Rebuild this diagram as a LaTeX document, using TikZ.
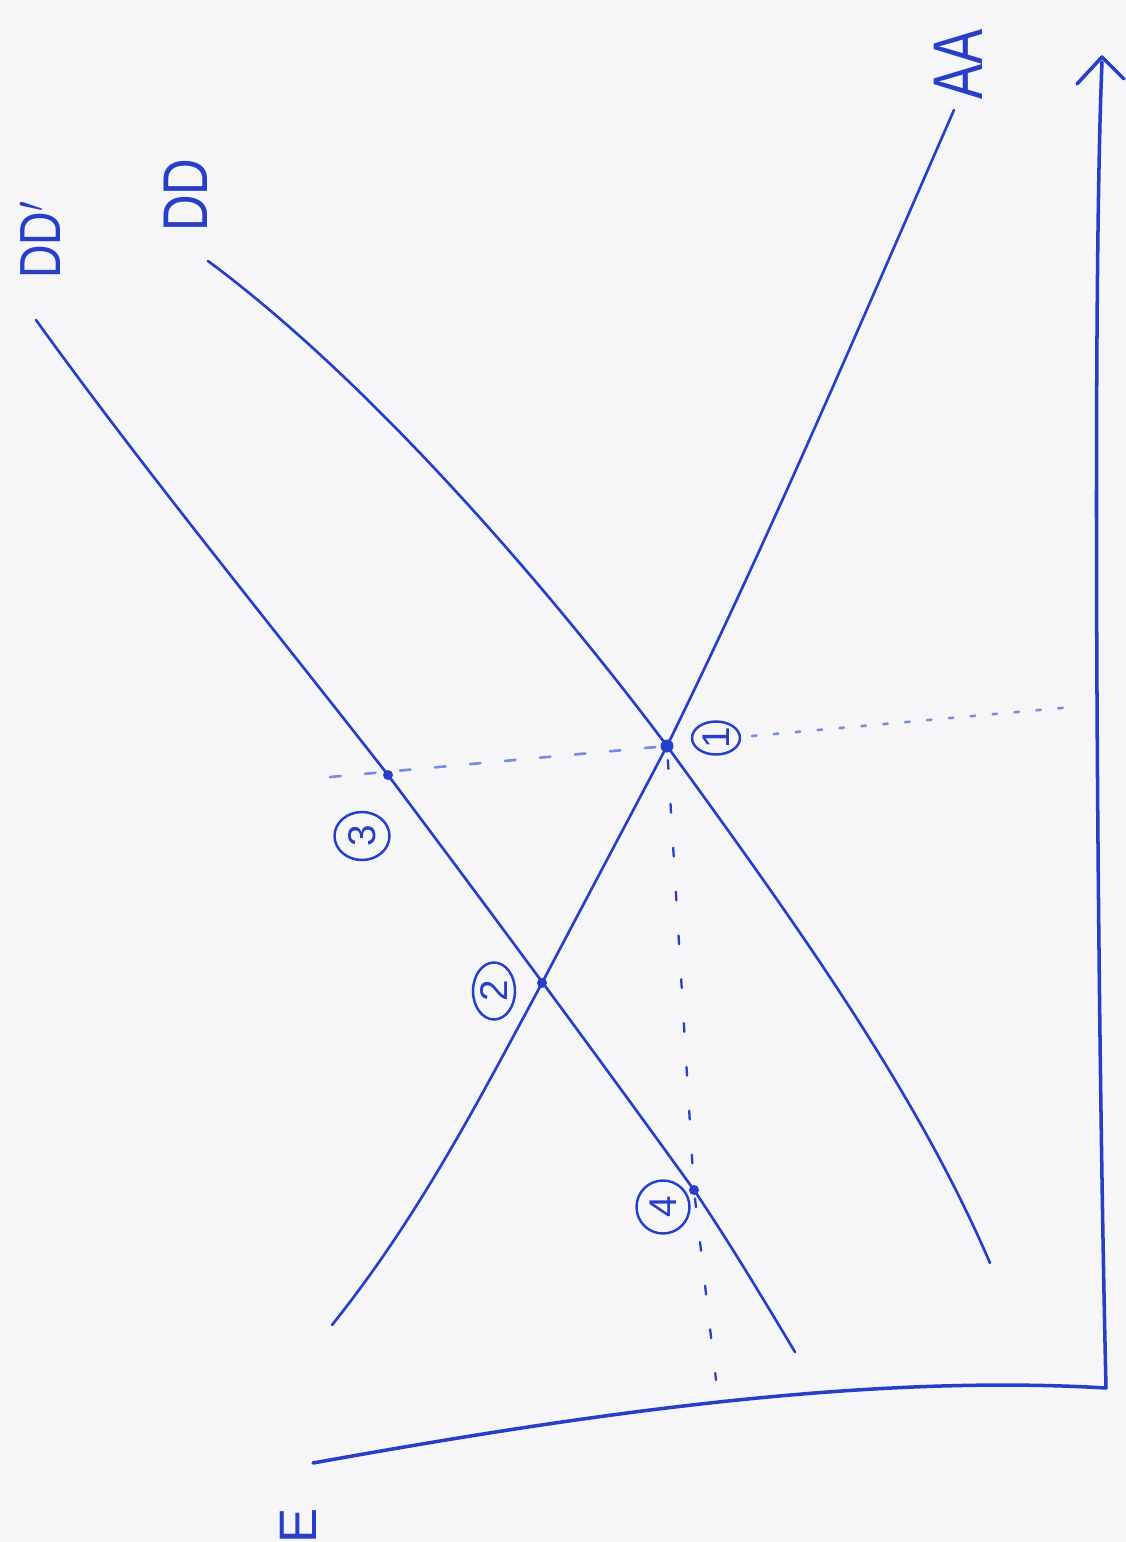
\documentclass[tikz,border=0pt]{standalone}
\usepackage{fontspec}
\setmainfont{Liberation Sans}
\usetikzlibrary{shapes.geometric}
\definecolor{ink}{RGB}{38,62,200}
\definecolor{inklight}{RGB}{120,140,222}
\definecolor{paper}{RGB}{246,246,248}
\begin{document}
\begin{tikzpicture}[x=0.02cm,y=-0.02cm,
  curve/.style={draw=ink, line width=1.5pt, line cap=round, line join=round},
  axisline/.style={draw=ink, line width=2pt, line cap=round, line join=round},
  guide/.style={draw=inklight, line width=1.5pt, line cap=round},
  lbl/.style={text=ink, rotate=90, inner sep=0pt},
  num/.style={draw=ink, text=ink, line width=1.4pt, ellipse, rotate=90, inner sep=0pt, font=\fontsize{22}{22}\selectfont},
  pt/.style={fill=ink}
]
\fill[paper] (0,0) rectangle (1126,1542);
\useasboundingbox (0,0) rectangle (1126,1542);

% key points
\coordinate (p1) at (667,746);
\coordinate (p2) at (542,983);
\coordinate (p3) at (388,775);
\coordinate (p4) at (694,1190);
\coordinate (o) at (1106,1388);
\coordinate (ytop) at (1102,62);
\coordinate (xend) at (313,1463);
\coordinate (aaT) at (954,110);
\coordinate (aaB) at (332,1325);
\coordinate (ddT) at (208,261);
\coordinate (ddB) at (990,1263);
\coordinate (dpT) at (36,320);
\coordinate (dpB) at (795,1352);

% axes
\draw[axisline] (xend) .. controls (563,1418) and (856,1373) .. (o);
\draw[axisline] (o) .. controls (1097,1000) and (1092,300) .. (ytop);
\coordinate (ahl) at (1077,84);
\coordinate (ahr) at (1124,79);
\coordinate (aht) at (1102,57);
\draw[axisline] (ahl) -- (aht) -- (ahr);

% AA curve
\draw[curve] (aaT) .. controls (862,320) and (770,536) .. (p1)
  .. controls (625,826) and (584,903) .. (p2)
  .. controls (480,1098) and (420,1215) .. (aaB);
% DD curve
\draw[curve] (ddT) .. controls (370,381) and (547,586) .. (p1)
  .. controls (798,926) and (917,1093) .. (ddB);
% DD' curve
\draw[curve] (dpT) .. controls (144,470) and (271,625) .. (p3)
  .. controls (493,915) and (593,1050) .. (p4)
  .. controls (731,1245) and (762,1297) .. (dpB);

% guides
\coordinate (g3l) at (330,777);
\coordinate (g1r) at (752,736);
\coordinate (g1e) at (1072,707);
\coordinate (g4b) at (716,1380);
\draw[guide, dash pattern=on 6pt off 14pt] (g3l) -- (p1);
\draw[guide, dash pattern=on 2.5pt off 10pt] (g1r) -- (g1e);
\draw[guide, draw=ink, line width=1.3pt, dash pattern=on 5pt off 20pt, dash phase=-8pt] (p1) -- (p4) -- (g4b);

% points
\fill[pt] (p1) circle (0.13cm);
\fill[pt] (p2) circle (0.1cm);
\fill[pt] (p3) circle (0.1cm);
\fill[pt] (p4) circle (0.1cm);

% circled numbers
\node[num, minimum width=0.66cm, minimum height=0.96cm] (n1) at (716,738) {1};
\node[num, minimum width=0.96cm, minimum height=1.1cm] (n3) at (362,836) {3};
\node[num, minimum width=1.14cm, minimum height=0.84cm] (n2) at (494,991) {2};
\node[num, minimum width=1.06cm, minimum height=1.06cm] (n4) at (663,1207) {4};

% labels
\node[lbl, font=\fontsize{40}{40}\selectfont] (lAA) at (958,64) {\scalebox{0.75}[1]{AA}};
\node[lbl, font=\fontsize{36}{36}\selectfont] (lDD) at (186,195) {\scalebox{0.8}[1]{DD}};
\node[lbl, font=\fontsize{33}{33}\selectfont] (lDDp) at (40,240) {\scalebox{0.8}[1]{DD$'$}};
\node[lbl, font=\fontsize{30}{30}\selectfont] (lE) at (298,1526) {E};
\end{tikzpicture}
\end{document}
